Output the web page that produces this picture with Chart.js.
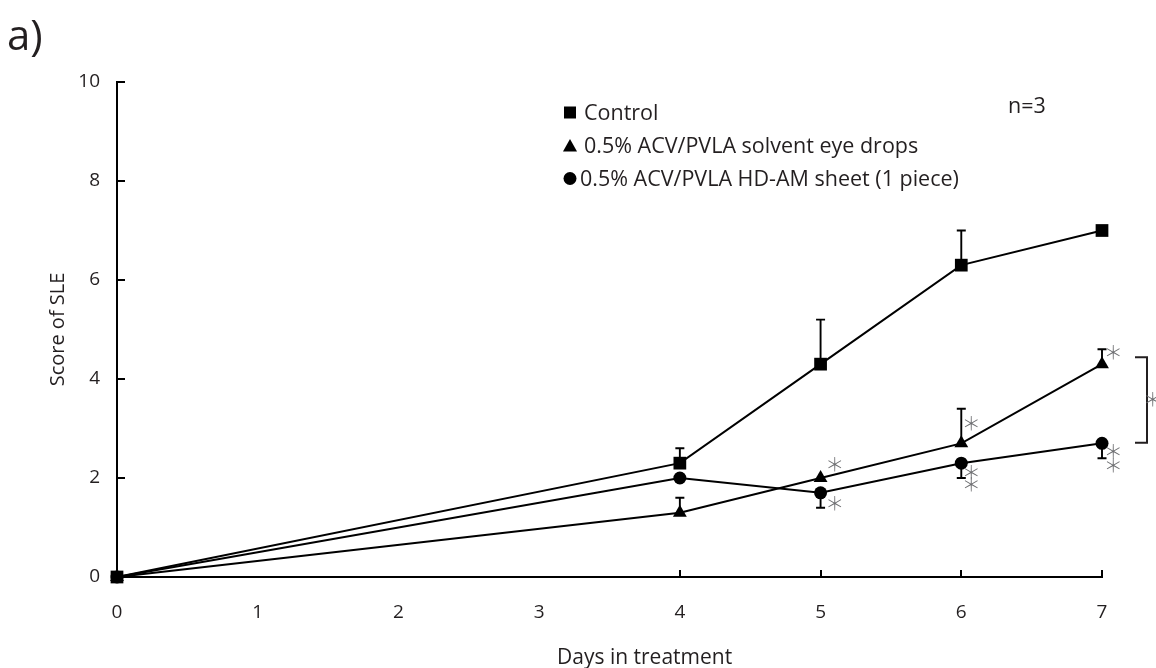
<!DOCTYPE html>
<html>
<head>
<meta charset="utf-8">
<script src="https://cdn.jsdelivr.net/npm/chart.js@4.4.0/dist/chart.umd.min.js"></script>
<style>
  html, body { margin: 0; padding: 0; background: #ffffff; }
  #wrap { width: 1156px; height: 668px; position: relative; }
  canvas { display: block; }
</style>
</head>
<body>
<div id="wrap"><canvas id="chart" width="1156" height="668"></canvas></div>
<script>
// ---------------- data ----------------
const days = [0, 4, 5, 6, 7];
const controlScores = [0, 2.3, 4.3, 6.3, 7.0];
const controlErrUp = [0, 0.3, 0.9, 0.7, 0];
const dropsScores = [0, 1.3, 2.0, 2.7, 4.3];
const dropsErrUp = [0, 0.3, 0, 0.7, 0.3];
const sheetScores = [0, 2.0, 1.7, 2.3, 2.7];
const sheetErrDown = [0, 0, 0.3, 0.3, 0.3];

const seriesLabels = [
  'Control',
  '0.5% ACV/PVLA solvent eye drops',
  '0.5% ACV/PVLA HD-AM sheet (1 piece)'
];
const xTicks = [0, 1, 2, 3, 4, 5, 6, 7];
const xTickMarks = [4, 5, 6, 7];
const yTicks = [0, 2, 4, 6, 8, 10];
const panelLabel = 'a)';
const sampleNote = 'n=3';
const xTitle = 'Days in treatment';
const yTitle = 'Score of SLE';

// significance asterisks, anchored in data units (day, score)
const starDays = [5.10, 5.10, 6.07, 6.07, 6.07, 7.08, 7.08, 7.08, 7.36];
const starScores = [2.28, 1.49, 3.11, 2.12, 1.86, 4.53, 2.53, 2.26, 3.58];
// bracket between the two treatment groups on day 7 (score span)
const bracketScores = [4.44, 2.71];

// ---------------- styling ----------------
const FONT = "'Open Sans', 'Noto Sans', sans-serif";
const STAR_FONT = "'Noto Sans CJK JP', 'DejaVu Sans', sans-serif";
const TEXT = '#231f20';
const INK = '#000000';
const STAR = '#6d6e71';

function toPoints(ys) { return days.map((d, i) => ({ x: d, y: ys[i] })); }

const errorSpecs = [
  { up: controlErrUp, down: null },
  { up: dropsErrUp, down: null },
  { up: null, down: sheetErrDown }
];

function drawMarker(ctx, style, x, y) {
  ctx.save();
  ctx.fillStyle = INK;
  ctx.beginPath();
  if (style === 'rect') {
    ctx.rect(x - 6, y - 6, 12, 12);
  } else if (style === 'triangle') {
    ctx.moveTo(x, y - 6.5);
    ctx.lineTo(x + 7, y + 6);
    ctx.lineTo(x - 7, y + 6);
    ctx.closePath();
  } else {
    ctx.arc(x, y, 6.5, 0, Math.PI * 2);
  }
  ctx.fill();
  ctx.restore();
}

const overlay = {
  id: 'overlay',
  beforeDatasetsDraw(chart) {
    const ctx = chart.ctx;
    const ys = chart.scales.y;
    ctx.save();
    ctx.strokeStyle = INK;
    ctx.lineWidth = 1.9;
    chart.data.datasets.forEach((ds, i) => {
      const meta = chart.getDatasetMeta(i);
      const spec = errorSpecs[i];
      meta.data.forEach((pt, j) => {
        const v = ds.data[j].y;
        const ends = [];
        if (spec.up && spec.up[j] > 0) ends.push(ys.getPixelForValue(v + spec.up[j]));
        if (spec.down && spec.down[j] > 0) ends.push(ys.getPixelForValue(v - spec.down[j]));
        ends.forEach(e => {
          ctx.beginPath();
          ctx.moveTo(pt.x, pt.y);
          ctx.lineTo(pt.x, e);
          ctx.moveTo(pt.x - 4.5, e);
          ctx.lineTo(pt.x + 4.5, e);
          ctx.stroke();
        });
      });
    });
    ctx.restore();
  },
  afterDraw(chart) {
    const ctx = chart.ctx;
    const xs = chart.scales.x, ys = chart.scales.y;
    const area = chart.chartArea;
    ctx.save();

    // inward tick marks
    ctx.strokeStyle = INK;
    ctx.lineWidth = 2;
    yTicks.forEach(v => {
      const y = Math.round(ys.getPixelForValue(v));
      ctx.beginPath();
      ctx.moveTo(area.left, y);
      ctx.lineTo(area.left + 8, y);
      ctx.stroke();
    });
    xTickMarks.forEach(d => {
      const x = Math.round(xs.getPixelForValue(d));
      ctx.beginPath();
      ctx.moveTo(x, area.bottom);
      ctx.lineTo(x, area.bottom - 7);
      ctx.stroke();
    });

    // panel label
    ctx.fillStyle = TEXT;
    ctx.textAlign = 'left';
    ctx.textBaseline = 'alphabetic';
    ctx.font = '42px ' + FONT;
    ctx.fillText(panelLabel, 7, 50);

    // x title
    ctx.font = '21px ' + FONT;
    ctx.fillText(xTitle, 557, 664);

    // legend
    ctx.font = '21.5px ' + FONT;
    chart.data.datasets.forEach((ds, i) => {
      const base = 120 + i * 33;
      drawMarker(ctx, ds.pointStyle, 570, base - 7.5);
      ctx.fillStyle = TEXT;
      ctx.fillText(ds.label, ds.pointStyle === 'circle' ? 580 : 584, base);
    });

    // n=3
    ctx.fillText(sampleNote, 1008, 113);

    // bracket
    const bx = xs.getPixelForValue(7);
    const bt = ys.getPixelForValue(bracketScores[0]);
    const bb = ys.getPixelForValue(bracketScores[1]);
    ctx.strokeStyle = '#231f20';
    ctx.lineWidth = 2;
    ctx.beginPath();
    ctx.moveTo(bx + 33, bt);
    ctx.lineTo(bx + 45, bt);
    ctx.lineTo(bx + 45, bb);
    ctx.lineTo(bx + 33, bb);
    ctx.stroke();

    // asterisks
    ctx.fillStyle = STAR;
    ctx.font = '300 19px ' + STAR_FONT;
    ctx.textAlign = 'left';
    ctx.textBaseline = 'alphabetic';
    const star = '\uFF0A';
    const m = ctx.measureText(star);
    const cx = (m.actualBoundingBoxRight - m.actualBoundingBoxLeft) / 2;
    const cy = (m.actualBoundingBoxDescent - m.actualBoundingBoxAscent) / 2;
    starDays.forEach((d, i) => {
      const x = xs.getPixelForValue(d);
      const y = ys.getPixelForValue(starScores[i]);
      ctx.fillText(star, x - cx, y - cy);
    });
    ctx.restore();
  }
};

const common = {
  borderColor: INK,
  borderWidth: 2,
  backgroundColor: INK,
  pointBackgroundColor: INK,
  pointBorderColor: INK,
  pointBorderWidth: 0,
  tension: 0,
  fill: false,
  clip: false
};

new Chart(document.getElementById('chart'), {
  type: 'line',
  data: {
    datasets: [
      Object.assign({ label: seriesLabels[0], data: toPoints(controlScores), pointStyle: 'rect', pointRadius: 9 }, common),
      Object.assign({ label: seriesLabels[1], data: toPoints(dropsScores), pointStyle: 'triangle', pointRadius: 8 }, common),
      Object.assign({ label: seriesLabels[2], data: toPoints(sheetScores), pointStyle: 'circle', pointRadius: 6.5 }, common)
    ]
  },
  options: {
    responsive: false,
    animation: false,
    layout: { padding: { left: 0, right: 54, top: 82, bottom: 0 } },
    plugins: { legend: { display: false }, tooltip: { enabled: false }, title: { display: false } },
    scales: {
      x: {
        type: 'linear', min: 0, max: 7,
        afterBuildTicks: s => { s.ticks = xTicks.map(v => ({ value: v })); },
        afterFit: s => { s.height = 91; },
        grid: { display: false, drawTicks: false },
        border: { display: true, color: INK, width: 2 },
        ticks: { color: TEXT, font: { family: FONT, size: 19 }, padding: 24, maxRotation: 0 }
      },
      y: {
        type: 'linear', min: 0, max: 10,
        afterBuildTicks: s => { s.ticks = yTicks.map(v => ({ value: v })); },
        afterFit: s => { s.width = 117; },
        grid: { display: false, drawTicks: false },
        border: { display: true, color: INK, width: 2 },
        ticks: { color: TEXT, font: { family: FONT, size: 19 }, padding: 17 },
        title: { display: true, text: yTitle, color: TEXT, font: { family: FONT, size: 20 }, padding: { top: 46, bottom: 0 } }
      }
    }
  },
  plugins: [overlay]
});
</script>
</body>
</html>
